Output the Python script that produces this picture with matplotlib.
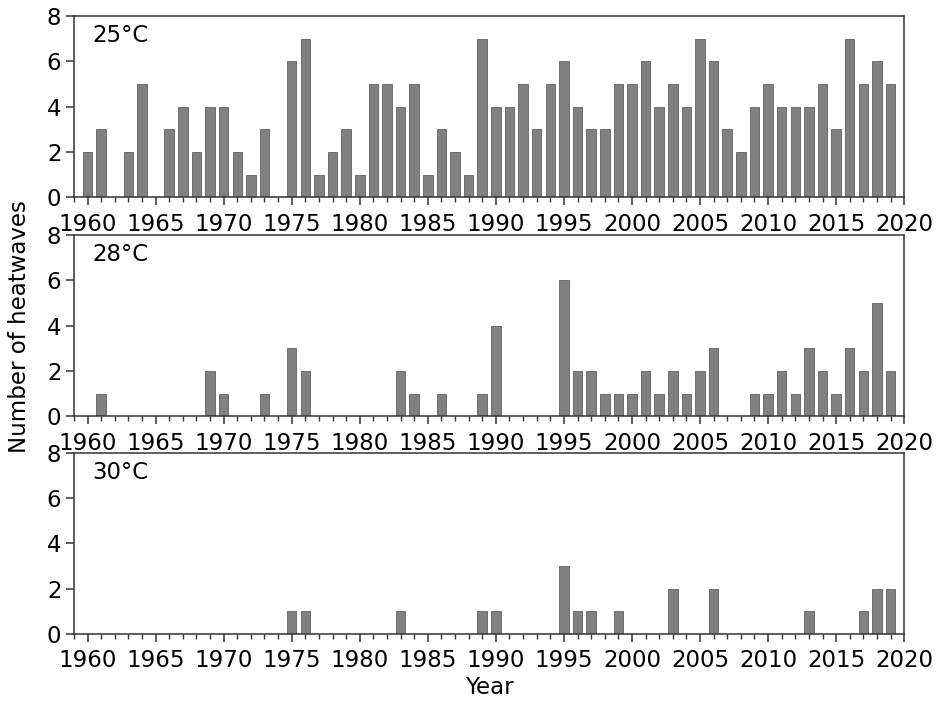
import matplotlib
matplotlib.use("Agg")
import matplotlib.pyplot as plt
from matplotlib.ticker import MultipleLocator

years = list(range(1960, 2020))

hw25 = [2, 3, 0, 2, 5, 0, 3, 4, 2, 4,
        4, 2, 1, 3, 0, 6, 7, 1, 2, 3,
        1, 5, 5, 4, 5, 1, 3, 2, 1, 7,
        4, 4, 5, 3, 5, 6, 4, 3, 3, 5,
        5, 6, 4, 5, 4, 7, 6, 3, 2, 4,
        5, 4, 4, 4, 5, 3, 7, 5, 6, 5]

hw28 = [0, 1, 0, 0, 0, 0, 0, 0, 0, 2,
        1, 0, 0, 1, 0, 3, 2, 0, 0, 0,
        0, 0, 0, 2, 1, 0, 1, 0, 0, 1,
        4, 0, 0, 0, 0, 6, 2, 2, 1, 1,
        1, 2, 1, 2, 1, 2, 3, 0, 0, 1,
        1, 2, 1, 3, 2, 1, 3, 2, 5, 2]

hw30 = [0, 0, 0, 0, 0, 0, 0, 0, 0, 0,
        0, 0, 0, 0, 0, 1, 1, 0, 0, 0,
        0, 0, 0, 1, 0, 0, 0, 0, 0, 1,
        1, 0, 0, 0, 0, 3, 1, 1, 0, 1,
        0, 0, 0, 2, 0, 0, 2, 0, 0, 0,
        0, 0, 0, 1, 0, 0, 0, 1, 2, 2]

labels = ["25°C", "28°C", "30°C"]
series = [hw25, hw28, hw30]

fig = plt.figure(figsize=(9.36, 7.02), dpi=100)
left, width = 0.079, 0.887
tops = [0.977, 0.665, 0.355]
height = 0.258
fs = 16.5

axes = []
for i, (lab, vals) in enumerate(zip(labels, series)):
    ax = fig.add_axes([left, tops[i] - height, width, height])
    ax.bar(years, vals, width=0.7, color="#808080", edgecolor="#6e6e6e", linewidth=0.7)
    ax.set_xlim(1959, 2020)
    ax.set_ylim(0, 8)
    ax.set_yticks([0, 2, 4, 6, 8])
    ax.set_xticks(range(1960, 2021, 5))
    ax.xaxis.set_minor_locator(MultipleLocator(1))
    ax.tick_params(axis="x", which="major", labelsize=fs, length=6, width=1.1,
                   color="#333333", pad=5)
    ax.tick_params(axis="y", which="major", labelsize=fs, length=6, width=1.1,
                   color="#333333", pad=3)
    ax.tick_params(axis="x", which="minor", length=3.5, width=1.0, color="#333333")
    for sp in ax.spines.values():
        sp.set_color("#333333")
        sp.set_linewidth(1.1)
    ax.text(0.022, 0.955, lab, transform=ax.transAxes, ha="left", va="top", fontsize=fs)
    axes.append(ax)

fig.text(0.021, 0.535, "Number of heatwaves", rotation=90, ha="center", va="center", fontsize=fs)
axes[-1].set_xlabel("Year", fontsize=fs, labelpad=3)

fig.savefig("out.png", dpi=100)
